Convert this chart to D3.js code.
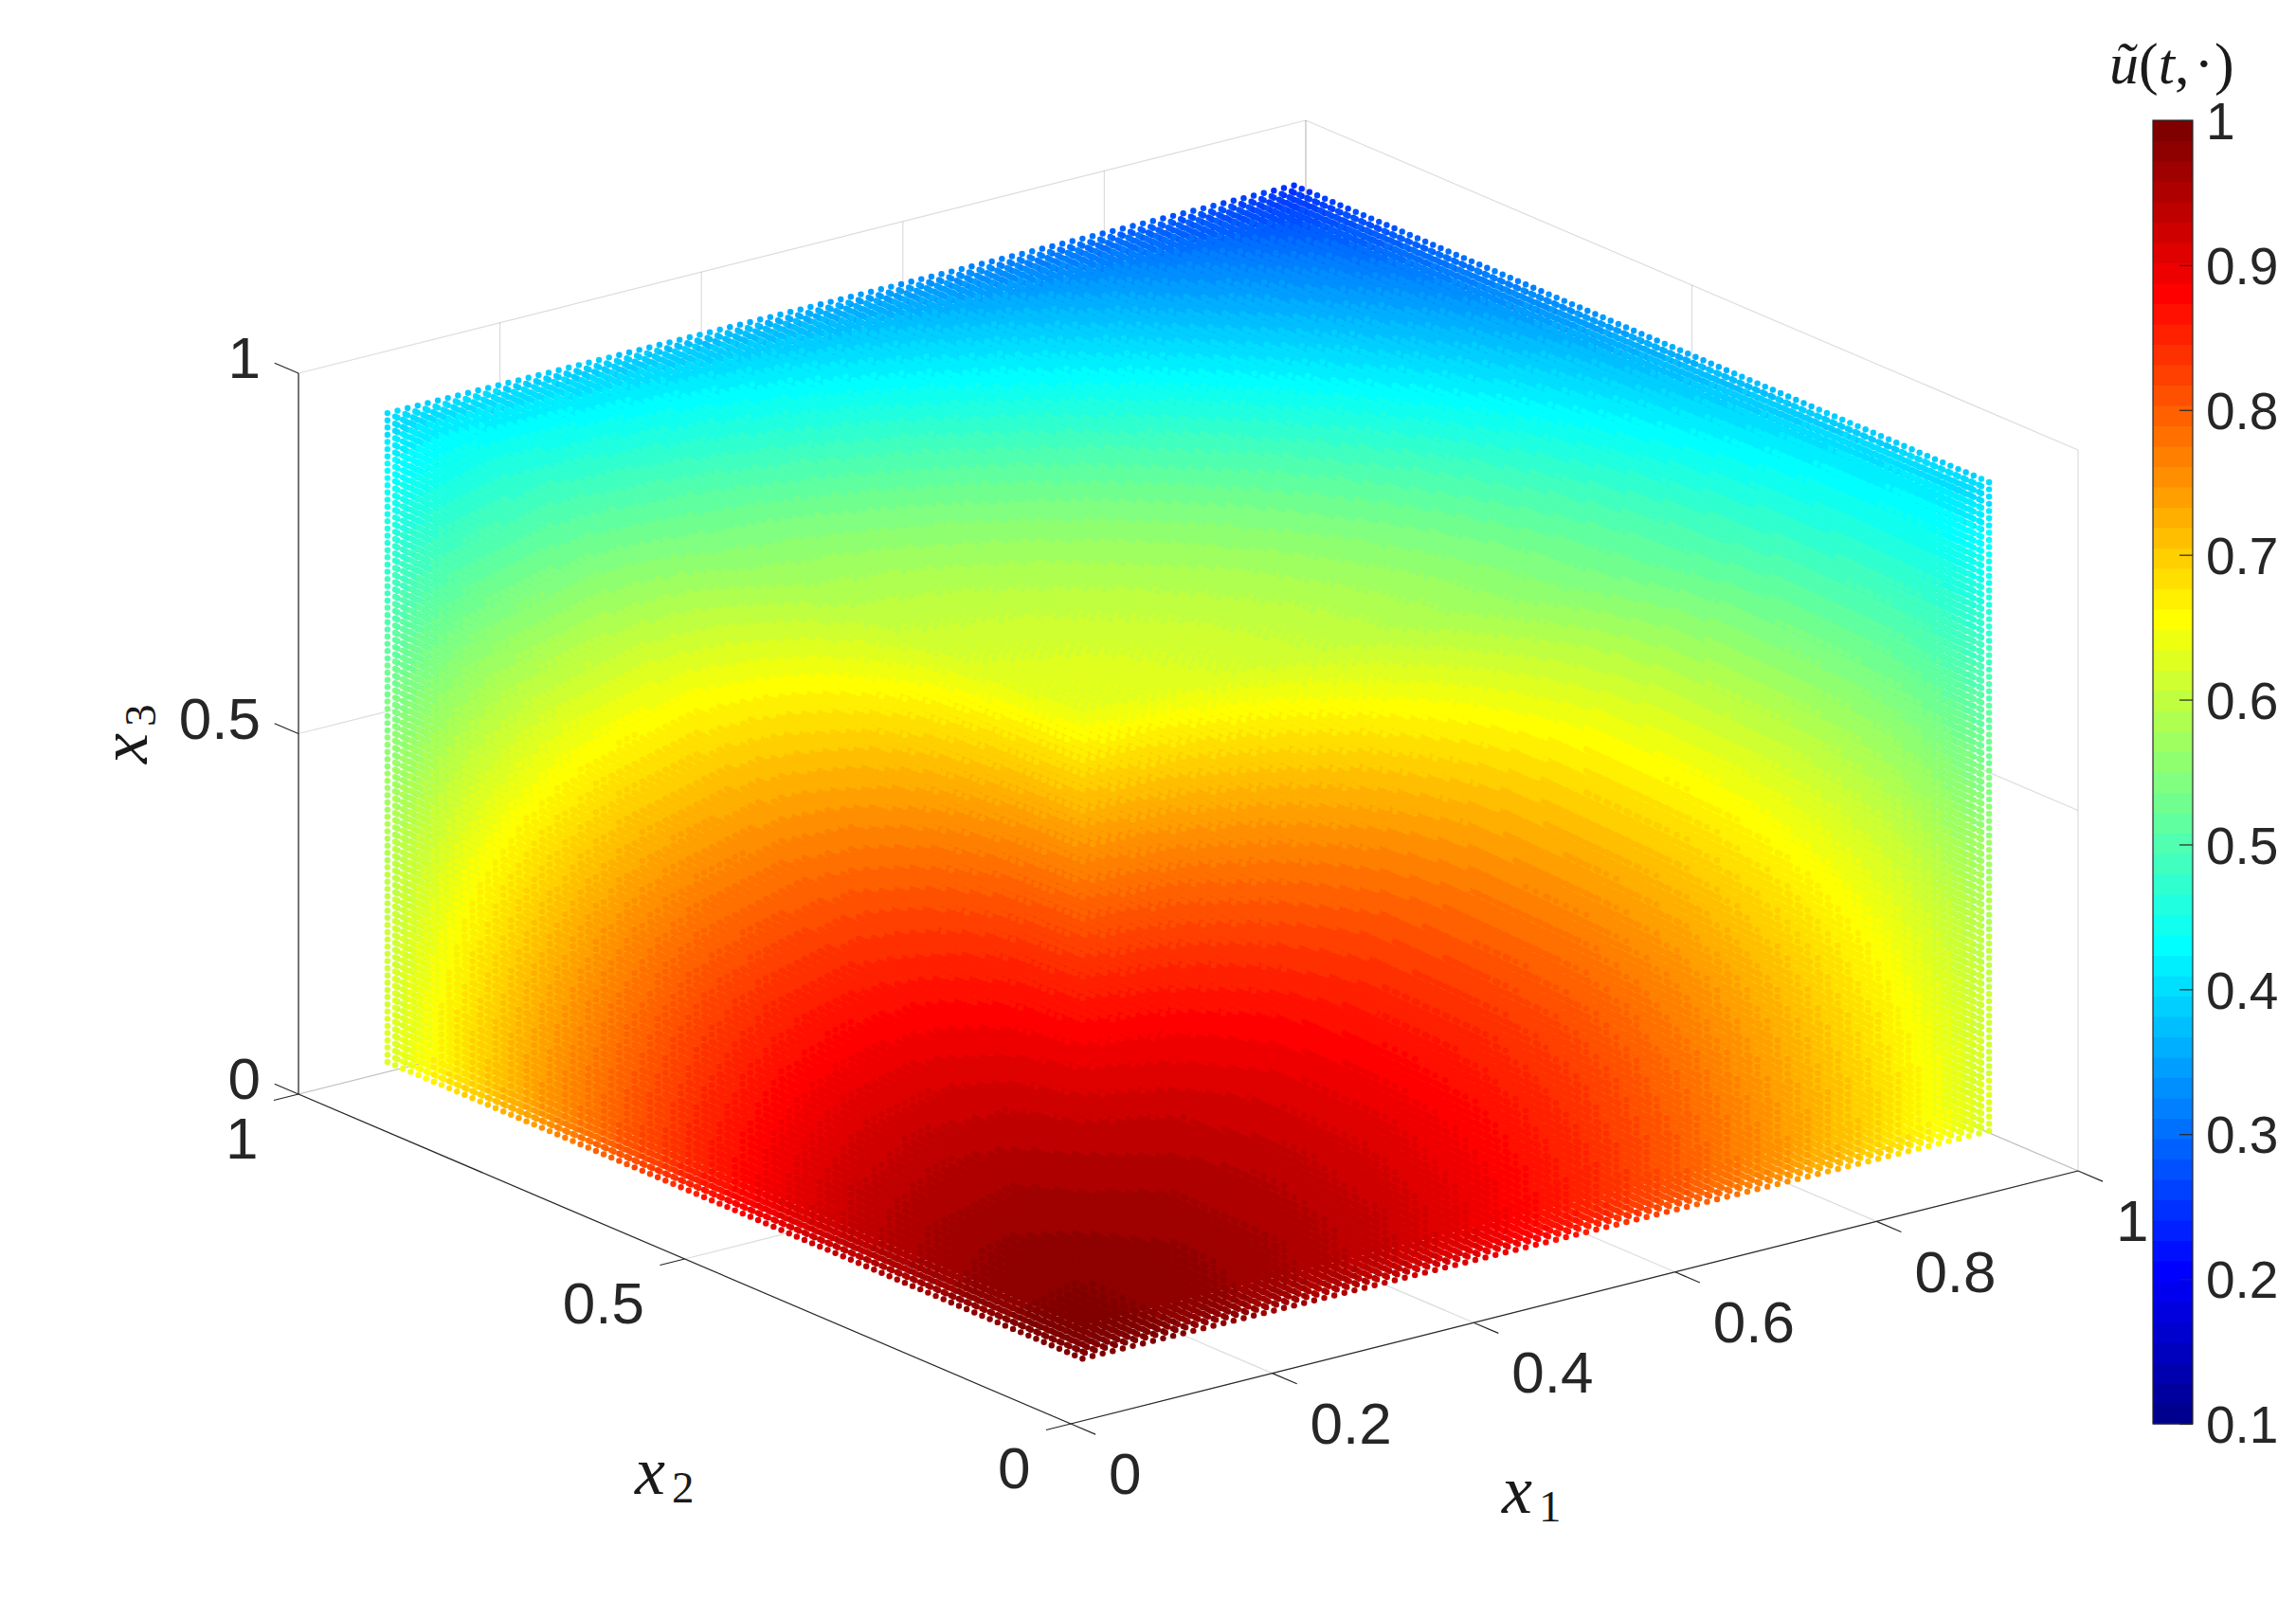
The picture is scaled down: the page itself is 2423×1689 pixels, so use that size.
<!DOCTYPE html>
<html><head><meta charset="utf-8">
<style>html,body{margin:0;padding:0;background:#fff}
#w{position:relative;width:2423px;height:1689px}
svg,canvas{position:absolute;left:0;top:0;display:block}
text{font-family:"Liberation Sans",Arial,sans-serif;fill:#262626}
.m{font-family:"Liberation Serif",serif;fill:#1a1a1a}</style>
<script src="https://cdnjs.cloudflare.com/ajax/libs/d3/7.8.5/d3.min.js"></script>
</head><body><div id="w"><svg id="c" width="2423" height="1689"></svg><canvas id="d" width="2423" height="1689"></canvas></div>
<script>
// Tick values
const x1Ticks=[0,0.2,0.4,0.6,0.8,1], x2Ticks=[0,0.5,1], x3Ticks=[0,0.5,1];
const barTicks=[0.1,0.2,0.3,0.4,0.5,0.6,0.7,0.8,0.9,1];
// Colour profile read along each edge of the point cloud
const samplePos=[0.05,0.15,0.25,0.35,0.45,0.55,0.65,0.75,0.85,0.95];
const profileX1=[.999,.989,.969,.941,.904,.860,.809,.753,.693,.626];
const profileX2=[.999,.989,.969,.941,.904,.860,.809,.753,.693,.626];
const profileX3=[.999,.989,.969,.941,.904,.860,.810,.755,.696,.633];
const G1=d3.scaleLinear(samplePos,profileX1),G2=d3.scaleLinear(samplePos,profileX2),G3=d3.scaleLinear(samplePos,profileX3);

// Projection built from d3 scales
const O=[1130,1503];
const X1x=d3.scaleLinear([0,1],[0,1063]),X1y=d3.scaleLinear([0,1],[0,-267]);
const X2x=d3.scaleLinear([0,1],[0,-815]),X2y=d3.scaleLinear([0,1],[0,-348]);
const X3y=d3.scaleLinear([0,1],[0,-761]);
const P=(a,b,c)=>[O[0]+X1x(a)+X2x(b),O[1]+X1y(a)+X2y(b)+X3y(c)];

// jet(64)
function jet(n){const m=Math.ceil(n/4),u=[];for(let i=1;i<=m;i++)u.push(i/m);
 for(let i=1;i<m;i++)u.push(1);for(let i=m;i>=1;i--)u.push(i/m);
 const J=d3.range(n).map(()=>[0,0,0]),g0=Math.ceil(m/2);
 u.forEach((v,k)=>{const g=g0+k+1,r=g+m,b=g-m;
  if(r<=n)J[r-1][0]=v; if(g<=n)J[g-1][1]=v; if(b>=1)J[b-1][2]=v;});
 return J.map(c=>`rgb(${c.map(v=>Math.round(v*255)).join(",")})`);}
const jetColors=jet(64);
const color=d3.scaleQuantize([0.1,1],jetColors);

const svg=d3.select("#c");
// Grid on the three back planes
const gridCol="rgba(38,38,38,0.16)";
const gridSegs=[];
x1Ticks.forEach(t=>{gridSegs.push([P(t,0,0),P(t,1,0)],[P(t,1,0),P(t,1,1)]);});
x2Ticks.forEach(t=>{gridSegs.push([P(0,t,0),P(1,t,0)],[P(1,t,0),P(1,t,1)]);});
x3Ticks.forEach(t=>{gridSegs.push([P(0,1,t),P(1,1,t)],[P(1,0,t),P(1,1,t)]);});
const line=d3.line();
svg.append("g").selectAll("path").data(gridSegs).join("path")
 .attr("d",line).attr("fill","none").attr("stroke",gridCol).attr("stroke-width",1.2);

// Axis lines and ticks
const axCol="#262626";
const axSegs=[[P(0,0,0),P(1,0,0)],[P(0,0,0),P(0,1,0)],[P(0,1,0),P(0,1,1)]];
x1Ticks.forEach(t=>axSegs.push([P(t,0,0),P(t,-0.032,0)]));
x2Ticks.forEach(t=>axSegs.push([P(0,t,0),P(-0.0245,t,0)]));
x3Ticks.forEach(t=>axSegs.push([P(0,1,t),P(0,1.031,t)]));
svg.append("g").selectAll("path").data(axSegs).join("path")
 .attr("d",line).attr("fill","none").attr("stroke",axCol).attr("stroke-width",1.2);

// Dots: solid block of grid points, outer shell of it is what can be seen
const grid=d3.range(5,96);
const shell=12;
const dots=[];
for(const i of grid)for(const j of grid)for(const k of grid){
 if(i-5>=shell&&j-5>=shell&&95-k>=shell)continue;
 const a=i/100,b=j/100,c=k/100;
 dots.push({x1:a,x2:b,x3:c,depth:0.62*a+0.81*b-0.59*c});
}
dots.sort((p,q)=>q.depth-p.depth);
const ctx=document.getElementById("d").getContext("2d");
for(const p of dots){
 const [x,y]=P(p.x1,p.x2,p.x3);
 ctx.fillStyle=color(G1(p.x1)*G2(p.x2)*G3(p.x3));
 ctx.beginPath();ctx.arc(x,y,3.2,0,2*Math.PI);ctx.fill();
}

// Axis tick labels
const lab=svg.append("g").attr("font-size",62);
lab.selectAll(".a").data(x1Ticks).join("text").attr("class","a")
 .attr("x",t=>P(t,0,0)[0]+40).attr("y",t=>P(t,0,0)[1]+52).attr("dy","0.358em").text(d=>d);
lab.selectAll(".b").data(x2Ticks).join("text").attr("class","b").attr("text-anchor","end")
 .attr("x",t=>P(0,t,0)[0]-42.5).attr("y",t=>P(0,t,0)[1]+46).attr("dy","0.358em").text(d=>d);
lab.selectAll(".c").data(x3Ticks).join("text").attr("class","c").attr("text-anchor","end")
 .attr("x",t=>P(0,1,t)[0]-40).attr("y",t=>P(0,1,t)[1]-17).attr("dy","0.358em").text(d=>d);

// Axis titles
function mathLabel(x,y,sub,rot){
 const t=svg.append("text").attr("class","m").attr("x",x).attr("y",y).attr("font-size",72);
 if(rot)t.attr("transform",`rotate(-90 ${x} ${y})`);
 t.append("tspan").attr("font-style","italic").text("x");
 t.append("tspan").attr("font-size",47).attr("dx",7).attr("dy",9).text(sub);
}
mathLabel(670,1577,"2");
mathLabel(1585,1597,"1");
mathLabel(155,806,"3",true);

// Colour bar
const barY=d3.scaleLinear([0.1,1],[1503,127]);
const barX=2272,barW=42;
const bandEdge=d3.scaleLinear([0,64],[0.1,1]);
svg.append("g").selectAll("rect").data(jetColors).join("rect")
 .attr("x",barX).attr("width",barW)
 .attr("y",(c,i)=>barY(bandEdge(i+1)))
 .attr("height",(c,i)=>barY(bandEdge(i))-barY(bandEdge(i+1))+0.5)
 .attr("fill",c=>c);
svg.append("rect").attr("x",barX).attr("y",127).attr("width",barW).attr("height",1376)
 .attr("fill","none").attr("stroke",axCol).attr("stroke-width",1.2);
const barAxis=d3.axisRight(barY).tickValues(barTicks).tickSize(-14).tickPadding(14).tickFormat(d=>d);
const gBar=svg.append("g").attr("transform",`translate(${barX+barW},0)`).call(barAxis);
gBar.select(".domain").remove();
gBar.attr("font-family",null).attr("font-size",null);
gBar.selectAll("text").attr("font-size",55).style("font-family",'"Liberation Sans"').attr("fill","#262626").attr("x",14).attr("dy","0.358em");
gBar.selectAll("line").attr("stroke",axCol).attr("stroke-width",1.2);

// Colour bar title
const tt=svg.append("text").attr("class","m").attr("x",2226).attr("y",88).attr("font-size",62);
tt.append("tspan").attr("font-style","italic").text("ũ");
tt.append("tspan").text("(");
tt.append("tspan").attr("font-style","italic").text("t");
tt.append("tspan").text(",");
tt.append("tspan").attr("dx",5).text("·");
tt.append("tspan").attr("dx",1).text(")");
</script></body></html>
